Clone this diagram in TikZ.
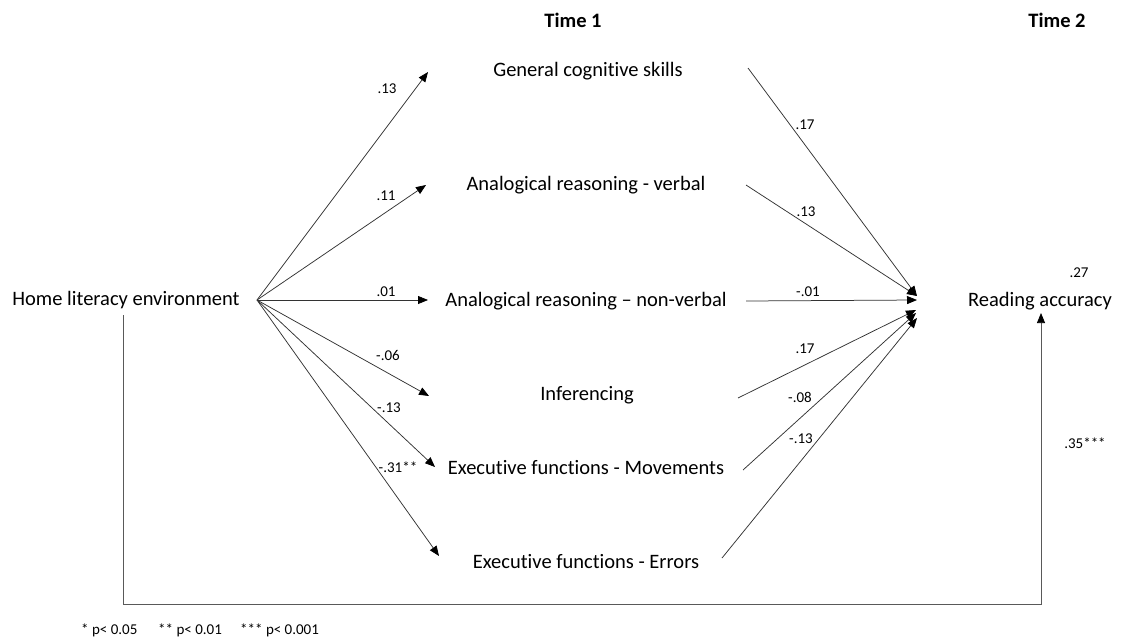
\documentclass[tikz,border=0pt]{standalone}
\usepackage{fontspec}
\setmainfont{Carlito}[Ligatures={NoCommon}]
\usetikzlibrary{arrows.meta}
\begin{document}
\begin{tikzpicture}[x=1pt,y=-1pt,
  var/.style={font=\fontsize{20.5}{24}\selectfont, inner sep=0pt},
  hdr/.style={font=\fontsize{20.5}{24}\selectfont\bfseries, inner sep=0pt},
  coef/.style={font=\fontsize{15}{18}\selectfont, inner sep=0pt},
  note/.style={font=\fontsize{15}{18}\selectfont, inner sep=0pt, anchor=west},
  link/.style={draw=black!80, line width=0.75pt, -{Triangle[length=10pt,width=8pt,color=black]}},
]
\useasboundingbox (0,0) rectangle (1121,640);

% column headers
\node[hdr] (t1) at (573,20) {Time 1};
\node[hdr] (t2) at (1057,20) {Time 2};

% variables
\node[var] (hle) at (126,300) {Home literacy environment};
\node[var] (gen) at (588,71) {General cognitive skills};
\node[var] (arv) at (586,185) {Analogical reasoning - verbal};
\node[var] (arn) at (586,301) {Analogical reasoning – non-verbal};
\node[var] (inf) at (587,395) {Inferencing};
\node[var] (efm) at (586,468) {Executive functions - Movements};
\node[var] (efe) at (586,562) {Executive functions - Errors};
\node[var] (ra)  at (1040,301) {Reading accuracy};

% arrow anchors
\coordinate (hleout) at (257,300);
\coordinate (gen-in)  at (428,72);
\coordinate (arv-in)  at (426,185);
\coordinate (arn-in)  at (428,300);
\coordinate (inf-in)  at (429,396);
\coordinate (efm-in)  at (435,467);
\coordinate (efe-in)  at (439,556);

\coordinate (gen-out) at (748,68);
\coordinate (arv-out) at (746,185);
\coordinate (arn-out) at (746,301);
\coordinate (inf-out) at (738,398);
\coordinate (efm-out) at (743,470);
\coordinate (efe-out) at (722,558);

\coordinate (ra-a) at (917,296);
\coordinate (ra-b) at (917,300);
\coordinate (ra-c) at (916,310);
\coordinate (ra-d) at (916,313);
\coordinate (ra-e) at (917,318);

\coordinate (hle-down) at (123,315);
\coordinate (ra-up) at (1041,313);

% Home literacy -> Time 1 measures
\draw[link] (hleout) -- (gen-in);
\draw[link] (hleout) -- (arv-in);
\draw[link] (hleout) -- (arn-in);
\draw[link] (hleout) -- (inf-in);
\draw[link] (hleout) -- (efm-in);
\draw[link] (hleout) -- (efe-in);

% Time 1 measures -> Reading accuracy
\draw[link] (gen-out) -- (ra-a);
\draw[link] (arv-out) -- (ra-a);
\draw[link] (arn-out) -- (ra-b);
\draw[link] (inf-out) -- (ra-c);
\draw[link] (efm-out) -- (ra-d);
\draw[link] (efe-out) -- (ra-e);

% direct path
\draw[link, draw=black!65] (hle-down) |- (1041,604) -- (ra-up);

% path coefficients
\node[coef] (c1) at (387,89) {.13};
\node[coef] (c2) at (386,196) {.11};
\node[coef] (c3) at (386,292) {.01};
\node[coef] (c4) at (388,355) {-.06};
\node[coef] (c5) at (389,408) {-.13};
\node[coef] (c6) at (398,467) {-.31**};

\node[coef] (d1) at (805,125) {.17};
\node[coef] (d2) at (806,212) {.13};
\node[coef] (d3) at (808,292) {-.01};
\node[coef] (d4) at (805,349) {.17};
\node[coef] (d5) at (800,397) {-.08};
\node[coef] (d6) at (801,439) {-.13};

\node[coef] (r2) at (1079,273) {.27};
\node[coef] (dir) at (1085,443) {.35***};

% significance key
\node[note] (k1) at (81,630) {* p< 0.05};
\node[note] (k2) at (158,630) {** p< 0.01};
\node[note] (k3) at (240,630) {*** p< 0.001};
\end{tikzpicture}
\end{document}
